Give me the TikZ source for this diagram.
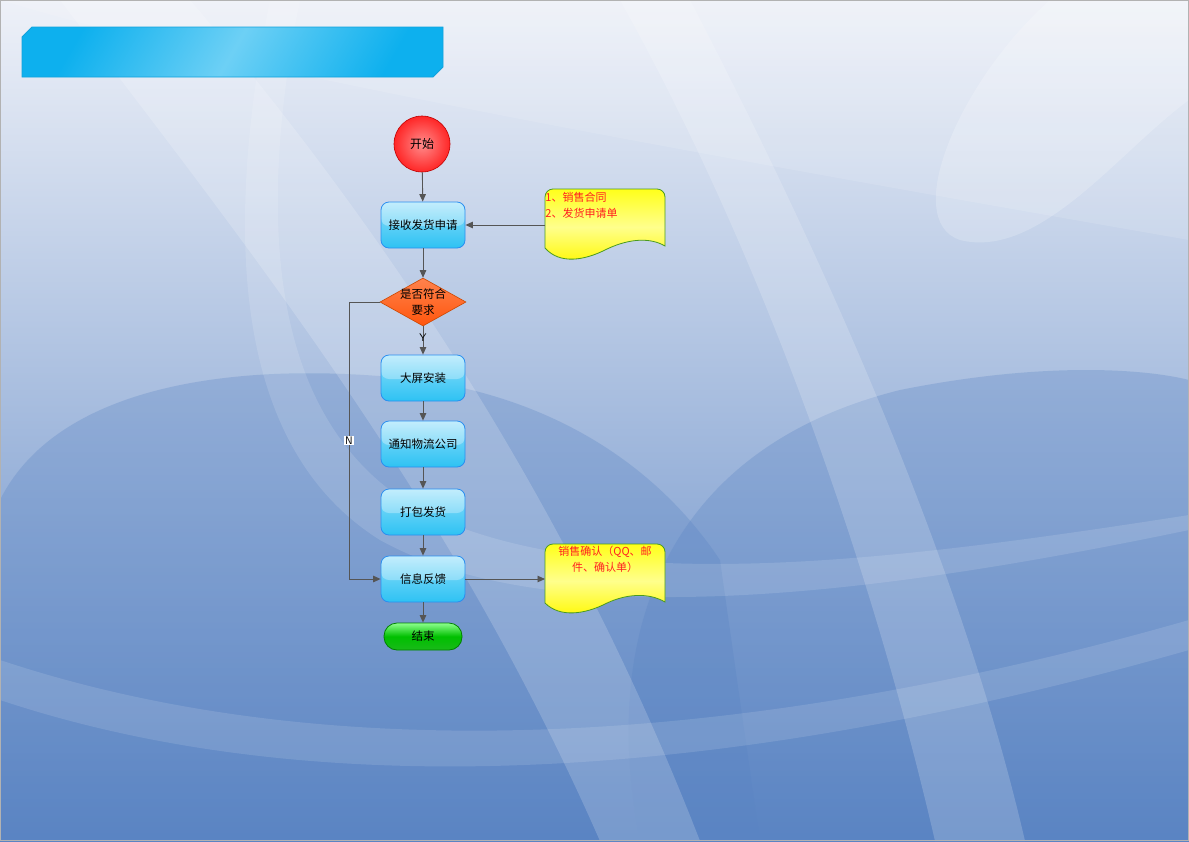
\documentclass[tikz,border=0pt]{standalone}
\usepackage{fontspec}
\newfontfamily\cjk{Noto Sans CJK SC}
\usetikzlibrary{shapes.geometric,arrows.meta,calc}
\definecolor{bgtop}{HTML}{EEF1F8}
\definecolor{bgbot}{HTML}{5A84C3}
\definecolor{linegray}{HTML}{555555}
\definecolor{boxedge}{HTML}{2A8EF0}
\definecolor{boxtop}{HTML}{A8E6FC}
\definecolor{boxbot}{HTML}{2EC2F3}
\definecolor{doctxt}{HTML}{FF2020}
\definecolor{docedge}{HTML}{4A9A20}
\definecolor{bannerend}{HTML}{0DB0EE}
\definecolor{bannermid}{HTML}{6DD0F5}
\definecolor{banneredge}{HTML}{12A2DC}
\tikzset{
  flow/.style={draw=linegray, line width=0.9pt, -{Triangle[length=7.5pt,width=6.5pt]}},
  gloss/.style={path picture={\fill[white, opacity=0.3]
      (path picture bounding box.north west) rectangle ($(path picture bounding box.east)+(0,1)$);}},
  stepbox/.style={rectangle, rounded corners=8pt, minimum width=84pt, minimum height=46pt,
    draw=boxedge, line width=0.8pt, top color=boxtop, bottom color=boxbot, middle color=boxbot!60!boxtop,
    gloss, font=\cjk\fontsize{11.5}{14}\selectfont, align=center, inner sep=1pt},
  lbl/.style={font=\sffamily\fontsize{11}{12}\selectfont, inner sep=1pt},
  doctext/.style={text=doctxt, font=\cjk\fontsize{11}{16}\selectfont, inner sep=0pt},
}
\begin{document}
\begin{tikzpicture}[x=1pt,y=-1pt]
\useasboundingbox (0,0) rectangle (1189,841);
% backdrop
\shade[shading angle=160, top color=bgtop, bottom color=bgbot] (0,0) rectangle (1189,841);
\begin{scope}
\clip (0,0) rectangle (1189,841);
% darker rolling hills
\fill[bgbot, opacity=0.3] (0,500) .. controls (60,380) and (250,360) .. (420,380)
  .. controls (560,400) and (660,470) .. (720,560) -- (760,841) -- (0,841) -- cycle;
\fill[bgbot, opacity=0.3] (640,841) .. controls (600,640) and (660,450) .. (900,390)
  .. controls (1050,360) and (1150,370) .. (1189,380) -- (1189,841) -- cycle;
% pale sweeping bands
\fill[white, opacity=0.18] (60,0) .. controls (250,250) and (450,500) .. (600,841)
  -- (700,841) .. controls (560,480) and (360,200) .. (190,0) -- cycle;
\fill[white, opacity=0.13] (300,0) .. controls (260,200) and (260,420) .. (420,510)
  .. controls (600,600) and (900,560) .. (1189,515) -- (1189,530)
  .. controls (900,590) and (560,640) .. (380,540) .. controls (220,440) and (230,200) .. (270,0) -- cycle;
\fill[white, opacity=0.18] (690,0) .. controls (820,250) and (960,560) .. (1025,841)
  -- (935,841) .. controls (870,560) and (760,250) .. (620,0) -- cycle;
\fill[white, opacity=0.2] (1050,0) .. controls (960,80) and (900,220) .. (960,240)
  .. controls (1040,260) and (1120,150) .. (1189,100) -- (1189,0) -- cycle;
\fill[white, opacity=0.12] (0,660) .. controls (300,760) and (700,760) .. (1189,620)
  -- (1189,650) .. controls (700,790) and (300,800) .. (0,700) -- cycle;
\fill[white, opacity=0.12] (0,0) .. controls (200,60) and (500,120) .. (1189,240) -- (1189,0) -- cycle;
\end{scope}
\draw[gray!60, line width=0.8pt] (0.4,0.4) rectangle (1188.6,840.6);

% header banner with clipped corners
\shade[left color=bannerend, right color=bannerend, middle color=bannermid,
       shading angle=60, draw=banneredge, line width=0.8pt]
  (32,27) -- (443,27) -- (443,67) -- (433,77) -- (22,77) -- (22,37) -- cycle;

% start node
\node[circle, minimum size=56pt, draw=red!75!black, line width=0.6pt,
      inner color=red!45, outer color=red!85!white,
      font=\cjk\fontsize{12}{14}\selectfont] (start) at (422,144) {开始};

% process steps
\node[stepbox] (recv) at (423,225) {接收发货申请};
\node[diamond, minimum width=86pt, minimum height=48pt, inner sep=0pt,
      draw=orange!70!red!80!black, line width=0.6pt, top color=orange!60!red!70, bottom color=orange!60!red!95]
      (check) at (423,302) {};
\node[font=\cjk\fontsize{11.5}{16}\selectfont, align=center, inner sep=0pt] (checktxt) at (check.center) {是否符合\\要求};
\node[stepbox] (screen) at (423,378) {大屏安装};
\node[stepbox] (notify) at (423,444) {通知物流公司};
\node[stepbox] (pack) at (423,512) {打包发货};
\node[stepbox] (feed) at (423,579) {信息反馈};
\node[rectangle, rounded corners=13pt, minimum width=78pt, minimum height=27pt,
      draw=green!50!black, line width=0.8pt, top color=green!45!white, bottom color=green!70!black!90,
      middle color=green!75!black, font=\cjk\fontsize{11.5}{14}\selectfont] (done) at (423,636.5) {结束};

% source documents
\begin{scope}[line width=0.8pt]
\shade[top color=yellow!90!white, bottom color=yellow!95!orange, middle color=yellow!45!white, draw=docedge]
  (545,198) [rounded corners=8pt] -- (545,189) -- (665,189) [sharp corners] -- (665,246)
  .. controls (648,236) and (625,240) .. (605,250) .. controls (585,260) and (560,265) .. (545,248) -- cycle;
\coordinate (doc1) at (545,225);
\node[anchor=north west, align=left, doctext] (doc1txt) at (545,191.5) {1、销售合同\\2、发货申请单};
\shade[top color=yellow!90!white, bottom color=yellow!95!orange, middle color=yellow!45!white, draw=docedge]
  (545,553) [rounded corners=8pt] -- (545,544) -- (665,544) [sharp corners] -- (665,602)
  .. controls (648,592) and (625,594) .. (605,604) .. controls (585,614) and (560,618) .. (545,603) -- cycle;
\coordinate (doc2) at (545,579);
\node[anchor=north, align=center, doctext] (doc2txt) at (605,545.5) {销售确认（QQ、邮\\件、确认单）};
\end{scope}

% connectors
\draw[flow] (start) -- (recv);
\draw[flow] (doc1) -- (recv.east);
\draw[flow] (recv) -- (check);
\draw[flow] (check) -- node[lbl, pos=0.4] (ylbl) {Y} (screen);
\draw[flow] (screen) -- (notify);
\draw[flow] (notify) -- (pack);
\draw[flow] (pack) -- (feed);
\draw[flow] (feed) -- (done);
\draw[flow] (feed.east) -- (doc2);
\coordinate (nturn1) at (349,302);
\coordinate (nturn2) at (349,579);
\draw[flow] (check.west) -- (nturn1) -- node[lbl, fill=white, pos=0.5] (nlbl) {N} (nturn2) -- (feed.west);
\end{tikzpicture}
\end{document}
